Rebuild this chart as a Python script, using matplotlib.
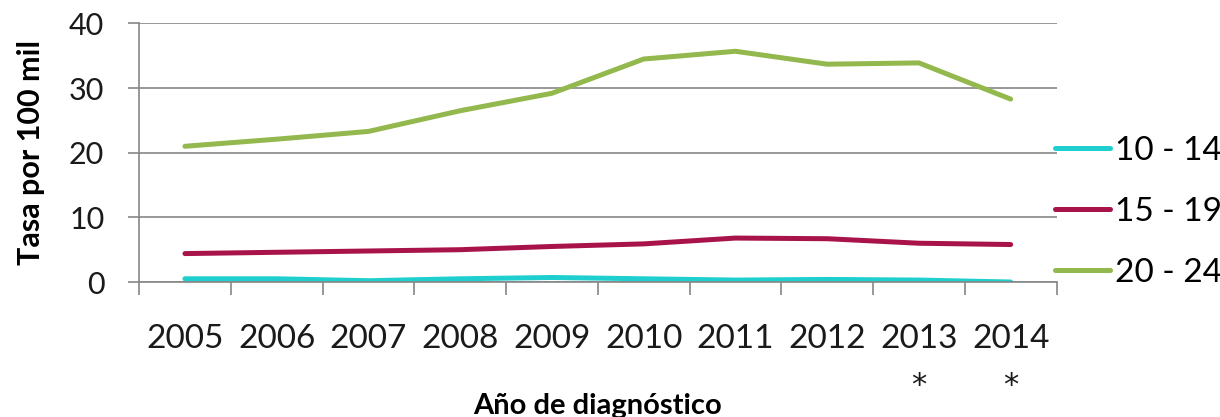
import numpy as np
import matplotlib.pyplot as plt
import matplotlib.transforms as mtransforms

# datos
anios = ['2005', '2006', '2007', '2008', '2009', '2010', '2011', '2012', '2013', '2014']
notas = ['', '', '', '', '', '', '', '', '*', '*']
grupos = ['10 - 14', '15 - 19', '20 - 24']
tasa_10_14 = [0.5, 0.5, 0.2, 0.5, 0.7, 0.5, 0.3, 0.4, 0.3, 0.0]
tasa_15_19 = [4.4, 4.6, 4.8, 5.0, 5.5, 5.9, 6.8, 6.7, 6.0, 5.8]
tasa_20_24 = [21.0, 22.1, 23.3, 26.5, 29.2, 34.5, 35.7, 33.7, 33.9, 28.3]
colores = ['#1fcfcf', '#a8144a', '#93b84d']

plt.rcParams['font.family'] = ['Lato', 'DejaVu Sans']

fig = plt.figure(figsize=(12.2, 4.17), dpi=100)
ax = fig.add_axes([0.114, 0.3237, 0.752, 0.62])

x = np.arange(len(anios))
for serie, nombre, c in zip([tasa_10_14, tasa_15_19, tasa_20_24], grupos, colores):
    ax.plot(x, serie, color=c, lw=3.6, solid_capstyle='round', label=nombre)

ax.set_xlim(-0.5, len(anios) - 0.5)
ax.set_ylim(0, 40)
ax.set_yticks([0, 10, 20, 30, 40])
ax.yaxis.grid(True, color='#868686', lw=1.2)
ax.set_axisbelow(True)

# marcas entre categorías
ax.set_xticks(np.arange(-0.5, len(anios), 1.0))
ax.set_xticklabels([])
ax.set_xticks(x, minor=True)
ax.set_xticklabels(anios, minor=True, fontsize=24, color='#1a1a1a')
ax.tick_params(axis='x', which='major', length=9.4, width=1.2, color='#868686')
ax.tick_params(axis='x', which='minor', length=0, pad=30)
ax.tick_params(axis='y', length=8, width=1.2, color='#868686', labelsize=22,
               labelcolor='#1a1a1a', pad=17)

# asteriscos bajo 2013 y 2014
trans = mtransforms.blended_transform_factory(ax.transData, fig.transFigure)
for xi, n in zip(x, notas):
    if n:
        ax.text(xi, 0.075, n, transform=trans, ha='center', va='center',
                fontsize=22, color='#1a1a1a', family='DejaVu Sans')

for s in ['top', 'right']:
    ax.spines[s].set_visible(False)
for s in ['left', 'bottom']:
    ax.spines[s].set_color('#868686')
    ax.spines[s].set_linewidth(1.2)

ax.set_ylabel('Tasa por 100 mil', fontsize=22, fontweight='bold', labelpad=17)
fig.text(0.49, -0.004, 'Año de diagnóstico', fontsize=21, fontweight='bold',
         ha='center', va='bottom')

ax.legend(loc='center left', bbox_to_anchor=(0.998, 0.271), frameon=False,
          fontsize=24, handlelength=1.65, handletextpad=0.15, labelspacing=0.93,
          borderaxespad=0, borderpad=0)

fig.savefig('out.png', dpi=100)
